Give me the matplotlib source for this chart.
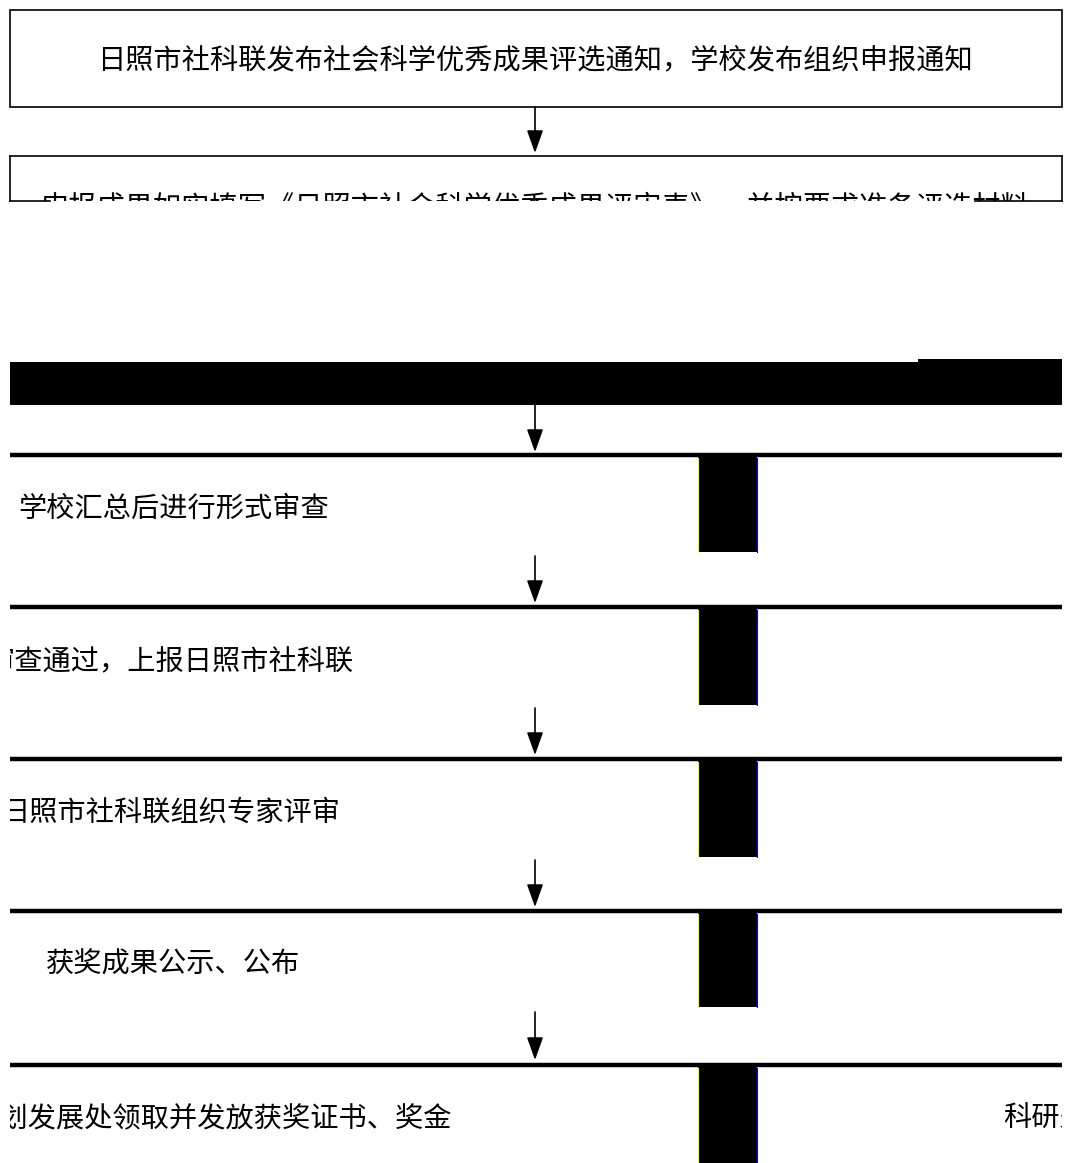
import matplotlib.pyplot as plt
from matplotlib.patches import Rectangle
from matplotlib.transforms import Bbox, TransformedBbox

plt.rcParams['font.family'] = ['Noto Sans CJK SC', 'DejaVu Sans']

# flow chart texts
top_text = "日照市社科联发布社会科学优秀成果评选通知，学校发布组织申报通知"
second_text = "申报成果如实填写《日照市社会科学优秀成果评审表》，并按要求准备评选材料"
row_texts = [
    "学校汇总后进行形式审查",
    "审查通过，上报日照市社科联",
    "日照市社科联组织专家评审",
    "获奖成果公示、公布",
    "到规划发展处领取并发放获奖证书、奖金",
]
side_text = "科研处"

# layout (pixels)
W, H = 1066, 1163
L, R = 10, 1062
FS = 20.3
row_tops = [455, 607, 759, 911, 1065]
row_block_bottoms = [552, 705, 857, 1007, 1163]
row_text_x = [18, 354, 340, 46, 452]
row_text_ha = ["left", "right", "right", "left", "right"]
arrows = [(107, 153), (405, 452), (556, 603), (708, 755), (860, 907), (1012, 1060)]
arrow_x = 535

fig = plt.figure(figsize=(W / 100, H / 100), dpi=100)
ax = fig.add_axes([0, 0, 1, 1])
ax.set_xlim(0, W)
ax.set_ylim(H, 0)
ax.axis("off")


def clip_to(t, x0, y0, x1, y1):
    # y0 < y1 in data units, keeps the transformed box in the right order
    t.set_clip_on(True)
    t.set_clip_box(TransformedBbox(Bbox([[x0, y0], [x1, y1]]), ax.transData))


# box 1
ax.add_patch(Rectangle((L, 10), R - L, 97, fill=False, ec="black", lw=1.2))
ax.text(535, 60, top_text, ha="center", va="center", fontsize=FS)

# box 2 (cut off)
ax.plot([L, R], [156, 156], color="black", lw=1.2)
ax.plot([L, L], [156, 201], color="black", lw=1.2)
ax.plot([R, R], [156, 201], color="black", lw=1.2)
ax.plot([L, 50], [201, 201], color="black", lw=1.2)
ax.plot([975, R], [201, 201], color="black", lw=1.2)
t = ax.text(535, 207, second_text, ha="center", va="center", fontsize=FS)
clip_to(t, 0, 0, W, 201)

# black band
ax.add_patch(Rectangle((L, 362), R - L, 43, color="black", lw=0))
ax.add_patch(Rectangle((918, 359), R - 918, 10, color="black", lw=0))

# arrows
for y0, y1 in arrows:
    ax.annotate("", xy=(arrow_x, y1), xytext=(arrow_x, y0),
                arrowprops=dict(arrowstyle="-|>,head_length=0.7,head_width=0.25",
                                color="black", lw=1.2, mutation_scale=20,
                                shrinkA=0, shrinkB=0))

# rows
for top, bottom, txt, tx, ha in zip(row_tops, row_block_bottoms, row_texts,
                                    row_text_x, row_text_ha):
    ax.plot([L, R], [top, top], color="black", lw=3.2, solid_capstyle="butt")
    ax.add_patch(Rectangle((698, top), 59, bottom - top, color="black", lw=0))
    ax.plot([698, 698], [top + 3, bottom], color="#ffff00", lw=0.8)
    ax.plot([757, 757], [top + 3, bottom], color="#0000ff", lw=0.8)
    t = ax.text(tx, top + 54, txt, ha=ha, va="center", fontsize=FS)
    clip_to(t, L, 0, R, H)

t = ax.text(1003, row_tops[-1] + 54, side_text, ha="left", va="center", fontsize=FS)
clip_to(t, L, 0, R, H)

fig.savefig("out.png", dpi=100, facecolor="white")
